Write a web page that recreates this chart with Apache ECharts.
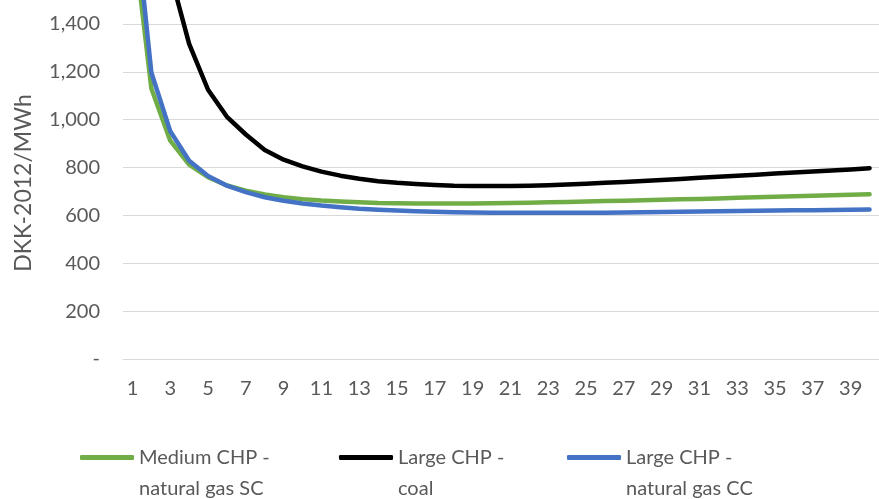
<!DOCTYPE html>
<html>
<head>
<meta charset="utf-8">
<script src="https://cdn.jsdelivr.net/npm/echarts@6/dist/echarts.min.js"></script>
<style>html,body{margin:0;padding:0;background:#fff}#c{width:879px;height:499px}</style>
</head>
<body>
<div id="c"></div>
<script>
const categories = Array.from({length: 40}, (_, i) => String(i + 1));
const yTicks = [0, 200, 400, 600, 800, 1000, 1200, 1400];
const seriesNames = ['Medium CHP -\nnatural gas SC', 'Large CHP -\ncoal', 'Large CHP -\nnatural gas CC'];
const mediumGasSC = [1800,1130,912,812,760,725,703,687,676,668,662,658,655,652,651,650,650,650,650,651,652,653,655,656,658,660,661,663,665,667,669,671,674,676,678,680,682,684,686,688];
const largeCoal = [4000,2210,1610,1317,1125,1012,938,873,833,805,783,766,753,743,736,731,727,724,723,723,723,724,726,729,732,736,740,744,748,752,757,761,766,770,775,779,783,788,792,797];
const largeGasCC = [1960,1197,952,828,765,724,697,676,661,650,641,634,628,624,620,617,615,613,612,611,611,611,611,611,611,611,612,613,614,615,616,617,618,619,620,621,622,623,624,625];
const colors = ['#70AD47', '#000000', '#4472C4'];
const legendLefts = [75, 334, 562];

const font = 'Lato, "Open Sans", sans-serif';
const chart = echarts.init(document.getElementById('c'));
const values = [mediumGasSC, largeCoal, largeGasCC];
const gridColors = yTicks.map(() => '#d9d9d9').concat(['rgba(255,255,255,0)']);

chart.setOption({
  animation: false,
  grid: {left: 123, right: 0, top: 0, bottom: 140, containLabel: false},
  xAxis: {
    type: 'category',
    data: categories,
    boundaryGap: true,
    axisLine: {show: true, lineStyle: {color: '#d9d9d9', width: 1}},
    axisTick: {show: false},
    axisLabel: {interval: 1, color: '#595959', fontFamily: font, fontSize: 20, margin: 20}
  },
  yAxis: {
    type: 'value',
    min: 0, max: 1500, interval: 200,
    axisLine: {show: false},
    axisTick: {show: false},
    splitLine: {lineStyle: {color: gridColors, width: 1}},
    axisLabel: {
      color: '#595959', fontFamily: font, fontSize: 20, margin: 23,
      formatter: v => yTicks.includes(v) ? (v === 0 ? '-' : v.toLocaleString('en-US')) : ''
    }
  },
  legend: seriesNames.map((n, i) => ({
    data: [n],
    left: legendLefts[i],
    top: 406,
    orient: 'horizontal',
    icon: 'roundRect',
    itemWidth: 54,
    itemHeight: 5,
    selectedMode: false,
    formatter: name => '\n' + name,
    textStyle: {color: '#595959', fontFamily: font, fontSize: 20, lineHeight: 31}
  })),
  graphic: [{
    type: 'text',
    x: 24, y: 183,
    rotation: Math.PI / 2,
    style: {text: 'DKK-2012/MWh', fill: '#595959', font: '23px ' + font, textAlign: 'center', textVerticalAlign: 'middle'}
  }],
  series: seriesNames.map((n, i) => ({
    name: n,
    type: 'line',
    data: values[i],
    symbol: 'none',
    smooth: false,
    lineStyle: {color: colors[i], width: 4.5, cap: 'round', join: 'round'},
    itemStyle: {color: colors[i]},
    z: i + 2
  }))
});
</script>
</body>
</html>
